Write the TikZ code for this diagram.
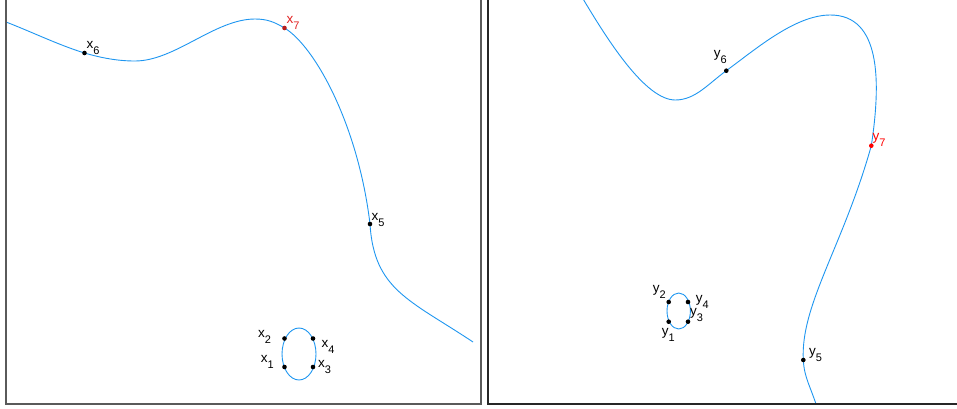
\documentclass[tikz,border=0pt]{standalone}
\usepackage{fontspec}
\setmainfont{Liberation Sans}
\usetikzlibrary{positioning}
\pgfdeclarelayer{background}
\pgfsetlayers{background,main}
\definecolor{curveblue}{RGB}{30,150,240}
\definecolor{labred}{RGB}{225,35,35}
\definecolor{dotred}{RGB}{185,30,30}
\definecolor{framegray}{RGB}{90,90,90}
\newcommand{\lbl}[2]{#1\raisebox{-6pt}{\fontsize{11}{11}\selectfont #2}}
\tikzset{
  vtx/.style={inner sep=0pt, minimum size=4.6pt, circle, fill=black},
  lab/.style={anchor=base west, inner sep=0pt, font=\fontsize{13.5}{13.5}\selectfont},
  curve/.style={curveblue, line width=0.9pt},
  frame/.style={framegray, line width=1.2pt}
}

\begin{document}
\begin{tikzpicture}[x=1pt,y=-1pt]
\useasboundingbox (0,0) rectangle (957,408);

\draw[frame] (6,0) -- (6,404) -- (481,404) -- (481,0);
\draw[frame, black!85] (488,0) -- (488,404) -- (957,404);

\node[vtx] (X6) at (84.5,53) {};
\node[vtx, fill=dotred] (X7) at (284.5,28) {};
\node[vtx] (X5) at (370,224) {};
\node[vtx] (X2) at (284.5,338.5) {};
\node[vtx] (X4) at (313,338.5) {};
\node[vtx] (X1) at (284.5,367) {};
\node[vtx] (X3) at (313,367) {};

\node[vtx] (Y6) at (726.3,70.7) {};
\node[vtx, fill=red] (Y7) at (871.3,145.7) {};
\node[vtx] (Y5) at (803.3,360) {};
\node[vtx] (Y2) at (668.7,302) {};
\node[vtx] (Y4) at (688,302) {};
\node[vtx] (Y1) at (668.7,321.7) {};
\node[vtx] (Y3) at (688,321.7) {};

\coordinate (P0) at (6,22);
\coordinate (P1) at (135,61);
\coordinate (P2) at (255,19);
\coordinate (P3) at (473,342);

\coordinate (Q0) at (583.7,0);
\coordinate (Q1) at (675.3,100);
\coordinate (Q2) at (830.3,15);
\coordinate (Q3) at (818,410);

\begin{pgfonlayer}{background}
\begin{scope}
\clip (6,0) rectangle (481,404);
\draw[curve] (P0) .. controls +(26,10) and +(-26,-8) .. (X6.center)
  .. controls +(17,5) and +(-17,0) .. (P1)
  .. controls +(40,0) and +(-40,0) .. (P2)
  .. controls +(12,0) and +(-10,-6) .. (X7.center)
  .. controls +(30,18) and +(-12,-100) .. (X5.center)
  .. controls +(4,66) and +(-63,-42) .. (P3);
\draw[curve] (299,354) ellipse [x radius=17, y radius=26];
\end{scope}
\begin{scope}
\clip (488,0) rectangle (957,404);
\draw[curve] (Q0) .. controls +(24,40) and +(-30,0) .. (Q1)
  .. controls +(20,0) and +(-18,13) .. (Y6.center)
  .. controls +(30,-22) and +(-35,0) .. (Q2)
  .. controls +(50,0) and +(10,-66) .. (Y7.center)
  .. controls +(-28,100) and +(-3,-55) .. (Y5.center)
  .. controls +(1,18) and +(-8,-25) .. (Q3);
\draw[curve] (678.7,311) ellipse [x radius=11.7, y radius=18];
\end{scope}
\end{pgfonlayer}

\node[lab] (LX6) at (86.3,48) {\lbl{x}{6}};
\node[lab, labred] (LX7) at (286.3,23) {\lbl{x}{7}};
\node[lab] (LX5) at (371.3,220) {\lbl{x}{5}};
\node[lab] (LX2) at (258,337) {\lbl{x}{2}};
\node[lab] (LX1) at (260.7,362) {\lbl{x}{1}};
\node[lab] (LX4) at (321.3,347) {\lbl{x}{4}};
\node[lab] (LX3) at (318,367) {\lbl{x}{3}};

\node[lab] (LY6) at (713.7,57) {\lbl{y}{6}};
\node[lab, red] (LY7) at (872.3,140) {\lbl{y}{7}};
\node[lab] (LY5) at (809,355) {\lbl{y}{5}};
\node[lab] (LY2) at (652.7,292) {\lbl{y}{2}};
\node[lab] (LY4) at (695.7,302) {\lbl{y}{4}};
\node[lab] (LY3) at (690,315) {\lbl{y}{3}};
\node[lab] (LY1) at (661.7,335) {\lbl{y}{1}};
\end{tikzpicture}
\end{document}
